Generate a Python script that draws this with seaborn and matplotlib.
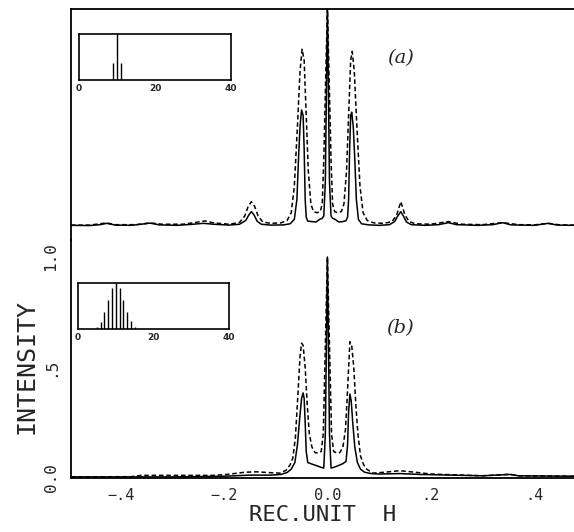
import numpy as np
import pandas as pd
import matplotlib
matplotlib.use("Agg")
import matplotlib.pyplot as plt
import seaborn as sns

# ---- profile (a) ----
xa_solid = [-0.496, -0.46, -0.44, -0.427, -0.41, -0.38, -0.36, -0.343, -0.325, -0.29, -0.26, -0.24,
            -0.22, -0.19, -0.17, -0.158, -0.152, -0.147, -0.142, -0.136, -0.128, -0.11, -0.085, -0.072,
            -0.064, -0.059, -0.056, -0.053, -0.05, -0.047, -0.045, -0.043, -0.041, -0.038, -0.03, -0.022,
            -0.015, -0.01, -0.007, -0.004, -0.002, 0.0, 0.002, 0.004, 0.007, 0.01, 0.015, 0.022, 0.03,
            0.036, 0.039, 0.041, 0.043, 0.045, 0.047, 0.05, 0.053, 0.056, 0.06, 0.066, 0.08, 0.1, 0.12,
            0.13, 0.136, 0.142, 0.147, 0.153, 0.162, 0.19, 0.215, 0.234, 0.25, 0.29, 0.32, 0.339, 0.355,
            0.4, 0.427, 0.445, 0.477]
ya_solid = [0.003, 0.002, 0.006, 0.012, 0.004, 0.003, 0.008, 0.013, 0.005, 0.003, 0.008, 0.012,
            0.008, 0.004, 0.008, 0.025, 0.05, 0.065, 0.05, 0.022, 0.008, 0.004, 0.005, 0.01,
            0.03, 0.12, 0.3, 0.45, 0.525, 0.5, 0.35, 0.12, 0.04, 0.022, 0.02, 0.018,
            0.03, 0.035, 0.045, 0.2, 0.6, 1.0, 0.6, 0.2, 0.045, 0.035, 0.03, 0.018, 0.02,
            0.024, 0.04, 0.12, 0.35, 0.5, 0.515, 0.45, 0.3, 0.12, 0.03, 0.01, 0.005, 0.003, 0.006,
            0.02, 0.045, 0.065, 0.045, 0.018, 0.006, 0.003, 0.006, 0.015, 0.006, 0.003, 0.006, 0.015, 0.005,
            0.003, 0.012, 0.004, 0.003]

xa_dash = [-0.496, -0.46, -0.427, -0.41, -0.37, -0.343, -0.32, -0.28, -0.255, -0.237, -0.22, -0.19,
           -0.17, -0.16, -0.153, -0.147, -0.141, -0.134, -0.125, -0.11, -0.09, -0.078, -0.07, -0.064,
           -0.058, -0.053, -0.049, -0.045, -0.041, -0.037, -0.032, -0.027, -0.02, -0.014, -0.01, -0.007,
           -0.004, 0.0, 0.004, 0.007, 0.01, 0.014, 0.02, 0.027, 0.032, 0.037, 0.041, 0.045, 0.048,
           0.052, 0.057, 0.063, 0.069, 0.077, 0.09, 0.11, 0.125, 0.134, 0.142, 0.15, 0.158, 0.17,
           0.2, 0.234, 0.26, 0.3, 0.339, 0.37, 0.4, 0.427, 0.45, 0.477]
ya_dash = [0.004, 0.004, 0.014, 0.006, 0.006, 0.014, 0.008, 0.008, 0.016, 0.023, 0.014, 0.008,
           0.016, 0.045, 0.09, 0.11, 0.09, 0.045, 0.018, 0.012, 0.014, 0.025, 0.06, 0.18,
           0.45, 0.7, 0.8, 0.75, 0.5, 0.25, 0.1, 0.065, 0.06, 0.065, 0.1, 0.3,
           0.6, 1.0, 0.6, 0.3, 0.1, 0.065, 0.06, 0.065, 0.1, 0.25, 0.5, 0.75, 0.79,
           0.7, 0.45, 0.18, 0.06, 0.025, 0.014, 0.012, 0.02, 0.05, 0.11, 0.05, 0.02, 0.01,
           0.008, 0.02, 0.008, 0.006, 0.015, 0.006, 0.005, 0.012, 0.005, 0.004]

# ---- profile (b) ----
xb_solid = [-0.496, -0.3, -0.2, -0.15, -0.11, -0.09, -0.078, -0.07, -0.063, -0.058, -0.054, -0.05,
            -0.047, -0.045, -0.043, -0.041, -0.038, -0.03, -0.02, -0.012, -0.007, -0.004, -0.002, 0.0,
            0.002, 0.004, 0.007, 0.012, 0.02, 0.03, 0.036, 0.039, 0.041, 0.0435, 0.046, 0.049, 0.053,
            0.058, 0.064, 0.072, 0.085, 0.1, 0.14, 0.18, 0.22, 0.3, 0.353, 0.37, 0.477]
yb_solid = [0.005, 0.005, 0.008, 0.013, 0.013, 0.016, 0.025, 0.04, 0.07, 0.15, 0.26, 0.36,
            0.385, 0.36, 0.25, 0.12, 0.07, 0.063, 0.055, 0.048, 0.045, 0.2, 0.6, 1.0,
            0.6, 0.2, 0.045, 0.048, 0.055, 0.065, 0.075, 0.15, 0.3, 0.38, 0.35, 0.25, 0.14,
            0.07, 0.04, 0.026, 0.02, 0.018, 0.02, 0.016, 0.014, 0.01, 0.016, 0.01, 0.008]

xb_dash = [-0.496, -0.38, -0.36, -0.3, -0.22, -0.195, -0.16, -0.137, -0.11, -0.092, -0.08, -0.072,
           -0.067, -0.062, -0.057, -0.053, -0.05, -0.047, -0.043, -0.039, -0.035, -0.03, -0.024, -0.018,
           -0.012, -0.008, -0.005, 0.0, 0.005, 0.008, 0.012, 0.018, 0.024, 0.03, 0.035, 0.039, 0.0435,
           0.047, 0.051, 0.055, 0.059, 0.064, 0.07, 0.076, 0.088, 0.11, 0.14, 0.17, 0.2, 0.25, 0.3,
           0.353, 0.37, 0.477]
yb_dash = [0.005, 0.006, 0.012, 0.012, 0.012, 0.016, 0.026, 0.028, 0.024, 0.022, 0.035, 0.06,
           0.09, 0.18, 0.38, 0.55, 0.61, 0.6, 0.5, 0.33, 0.2, 0.14, 0.115, 0.113,
           0.12, 0.2, 0.5, 1.0, 0.5, 0.2, 0.12, 0.113, 0.115, 0.14, 0.22, 0.4, 0.617,
           0.6, 0.5, 0.33, 0.2, 0.1, 0.06, 0.04, 0.022, 0.026, 0.033, 0.026, 0.018, 0.014, 0.01,
           0.017, 0.01, 0.008]

# ---- inset distributions ----
na = [9, 10, 11]
ha = [0.38, 1.0, 0.38]
nb = [5, 6, 7, 8, 9, 10, 11, 12, 13, 14, 15]
hb = [0.05, 0.16, 0.37, 0.64, 0.89, 1.0, 0.89, 0.64, 0.37, 0.18, 0.05]

x_ticks = [-0.4, -0.3, -0.2, -0.1, 0.0, 0.1, 0.2, 0.3, 0.4]
x_ticklabels = ["\u2212.4", "", "\u2212.2", "", "0.0", "", ".2", "", ".4"]
y_ticks = [0.0, 0.25, 0.5, 0.75, 1.0]
y_ticklabels = ["0.0", "", ".5", "", "1.0"]
inset_ticks = [0, 20, 40]

sns.set_style("white")
plt.rcParams["font.family"] = ["DejaVu Sans Mono", "DejaVu Sans"]

fig = plt.figure(figsize=(5.74, 5.32), dpi=100)
ax_b = fig.add_axes([0.1237, 0.1015, 0.8763, 0.4474])
ax_a = fig.add_axes([0.1237, 0.5489, 0.8763, 0.4342])

xlim = (-0.496, 0.477)

for ax, xs, ys, xd, yd in [(ax_a, xa_solid, ya_solid, xa_dash, ya_dash),
                            (ax_b, xb_solid, yb_solid, xb_dash, yb_dash)]:
    sns.lineplot(x=xd, y=yd, ax=ax, color="k", lw=1.1, sort=False, estimator=None,
                 dashes=False, linestyle=(0, (3, 1.8)))
    sns.lineplot(x=xs, y=ys, ax=ax, color="k", lw=1.1, sort=False, estimator=None)
    ax.set_xlim(*xlim)
    ax.set_facecolor("white")
    for s in ax.spines.values():
        s.set_linewidth(1.3)
        s.set_color("k")
    ax.spines["right"].set_visible(False)

ax_a.set_ylim(-0.0633, 0.982)
ax_a.spines["bottom"].set_visible(False)
ax_a.set_xticks([])
ax_a.set_yticks([])
ax_a.patch.set_alpha(0)

ax_b.set_ylim(0, 1.077)
ax_b.spines["top"].set_visible(False)
ax_b.set_xticks(x_ticks)
ax_b.set_xticklabels(x_ticklabels, fontsize=11)
ax_b.set_yticks(y_ticks)
ax_b.set_yticklabels(y_ticklabels, fontsize=11.5, rotation=90, va="center")
ax_b.tick_params(direction="out", length=4, width=1.2, color="k")
ax_b.tick_params(axis="x", pad=3)
ax_b.tick_params(axis="y", pad=5)
ax_b.set_xlabel("REC.UNIT  H", fontsize=16)
ax_b.xaxis.set_label_coords(0.5, -0.157)
ax_b.xaxis.label.set_va("center")
ax_b.set_ylabel("INTENSITY", fontsize=18)
ax_b.yaxis.set_label_coords(-0.089, 0.47)
ax_b.yaxis.label.set_va("center")

ax_a.text(0.142, 0.76, "(a)", fontsize=14, style="italic", family="DejaVu Serif",
          ha="center", va="center")
ax_b.text(0.14, 0.68, "(b)", fontsize=14, style="italic", family="DejaVu Serif",
          ha="center", va="center")

# insets
for rect, ns, hs in [([0.1376, 0.8496, 0.265, 0.0865], na, ha),
                     ([0.1359, 0.3816, 0.263, 0.0865], nb, hb)]:
    ins = fig.add_axes(rect)
    ins.vlines(ns, 0, hs, color="k", lw=1.0)
    ins.set_xlim(0, 40)
    ins.set_ylim(0, 1.0)
    ins.set_yticks([])
    ins.set_xticks(inset_ticks)
    ins.set_xticklabels([str(t) for t in inset_ticks], fontsize=6.5, fontweight="bold",
                        family="DejaVu Sans")
    ins.tick_params(axis="x", length=0, pad=3)
    ins.set_facecolor("white")
    for s in ins.spines.values():
        s.set_linewidth(1.2)
        s.set_color("k")

fig.savefig("out.png", dpi=100, facecolor="white")
